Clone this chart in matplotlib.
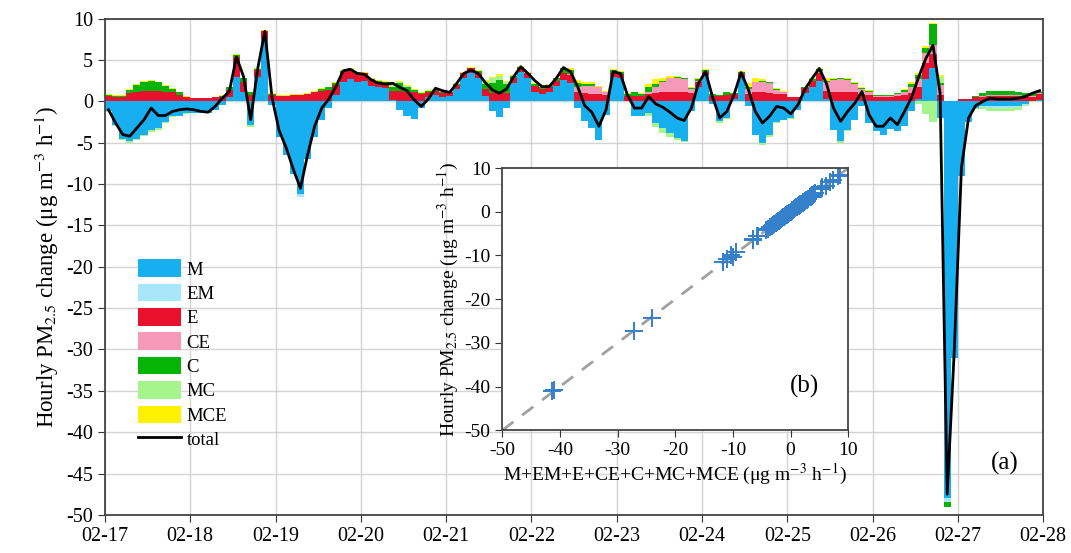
import numpy as np
import matplotlib
matplotlib.use('Agg')
import matplotlib.pyplot as plt
from matplotlib.patches import Patch
from matplotlib.lines import Line2D

plt.rcParams['font.family'] = ['Liberation Serif', 'DejaVu Serif']
plt.rcParams['mathtext.fontset'] = 'stix'
plt.rcParams['axes.unicode_minus'] = False

# 2-hourly values, one row per day (02-17 ... 02-27)
M = [-1.2, -2.8, -4.5, -4.8, -4.5, -4.0, -3.5, -3.2, -2.5, -1.8, -1.7, -1.4,
     -1.4, -1.4, -1.4, -1.0, -0.4, 0.5, 3.0, 1.2, -2.8, 3.0, 7.6, -0.4,
     -4.3, -6.5, -8.8, -11.2, -7.0, -4.3, -2.3, -0.8, 0.8, 2.4, 2.7, 2.3,
     2.5, 1.9, 1.8, 1.6, 0.2, -1.0, -1.8, -2.1, -0.8, 0.6, 0.8, 0.6,
     0.7, 1.5, 2.9, 3.4, 2.8, 0.7, -1.2, -1.9, -0.8, 2.2, 3.6, 2.8,
     1.2, 0.9, 1.1, 1.9, 2.6, 2.2, -0.8, -2.4, -3.2, -4.6, -1.6, 3.0,
     2.8, 0.0, -1.8, -1.7, -1.4, -2.6, -3.2, -3.8, -4.4, -4.8, -1.2, 1.8,
     3.2, -0.3, -2.4, -2.0, 0.3, 3.0, -0.5, -4.0, -5.0, -4.0, -2.5, -2.2,
     -2.0, -1.0, 1.0, 1.7, 2.5, 0.3, -3.4, -4.8, -3.5, -2.2, -0.6, -2.6,
     -3.6, -4.0, -3.3, -3.6, -3.0, -1.2, 0.3, 2.7, 4.0, -2.0, -48.0, -31.0,
     -9.0, -2.5, -0.8, -0.6, -0.6, -0.6, -0.6, -0.6, -0.5, -0.3, 0.0, 0.2]
EM = [0] * 12 + [0] * 12 + \
     [0, 0, 0, -0.3, 0, 0, 0, 0, 0, 0, 0, 0] + [0] * 72 + \
     [0, 0, 0, 0, 0, 0, 0, 0, 0, 0, -0.5, 0] + \
     [0, 0, 0, -0.1, -0.2, -0.2, -0.2, -0.2, -0.2, -0.1, 0, 0]
E = [0.7, 0.6, 0.6, 1.0, 1.2, 1.3, 1.3, 1.3, 1.2, 1.1, 0.8, 0.5,
     0.4, 0.4, 0.4, 0.5, 0.6, 0.9, 2.4, 1.2, 0.8, 0.8, 0.9, 0.8,
     0.7, 0.7, 0.8, 0.8, 0.9, 1.1, 1.3, 1.4, 1.2, 1.2, 1.1, 1.0,
     0.9, 0.7, 0.5, 0.6, 1.1, 1.3, 1.2, 1.1, 0.9, 0.6, 0.5, 0.4,
     0.4, 0.5, 0.5, 0.6, 0.6, 0.8, 1.0, 1.1, 1.0, 0.6, 0.5, 0.6,
     0.7, 0.6, 0.6, 0.6, 0.9, 1.0, 1.2, 1.0, 0.9, 0.9, 0.8, 0.5,
     0.5, 0.7, 0.7, 0.7, 0.9, 1.0, 1.1, 1.1, 1.1, 1.1, 1.0, 0.6,
     0.4, 0.7, 0.7, 0.8, 0.6, 0.4, 0.9, 1.1, 1.1, 1.0, 0.9, 0.9,
     0.5, 0.5, 0.6, 0.8, 1.0, 1.0, 1.1, 1.1, 1.1, 1.1, 0.9, 0.8,
     0.6, 0.6, 0.6, 0.7, 0.8, 1.0, 1.4, 2.0, 1.8, 0.8, 0.0, 0.0,
     0.3, 0.3, 0.5, 0.6, 0.7, 0.7, 0.7, 0.7, 0.7, 0.6, 0.6, 0.7]
CE = [0] * 60 + \
     [0, 0, 0, 0, 0, 0.1, 0.6, 0.9, 1.0, 0.8, 0.3, 0,
      0, 0, 0, 0, 0.3, 0.8, 1.3, 1.7, 1.8, 1.6, 0.5, 0.1,
      0, 0, 0, 0, 0, 0, 0.6, 1.2, 1.3, 1.2, 0.5, 0.2,
      0, 0, 0, 0, 0.2, 1.0, 1.5, 1.6, 1.5, 1.0, 0.6, 0.4,
      0.1, 0.1, 0.1, 0.2, 0.4, 0.8, 1.0, 1.2, 1.0, 1.2, 0, 0,
      0, 0, 0.1, 0.1, 0.1, 0.1, 0.1, 0.1, 0.1, 0.1, 0.1, 0.1]
C = [0.1, 0.1, 0.1, 0.4, 0.8, 1.1, 1.2, 1.0, 0.7, 0.4, 0.3, 0.1,
     0.0, 0.0, 0.0, 0.0, 0.1, 0.3, 0.2, 0.4, 0.3, 0.1, 0.0, 0.1,
     0.0, 0.0, 0.0, 0.0, 0.0, 0.1, 0.2, 0.3, 0.2, 0.1, 0.1, 0.1,
     0.1, 0.1, 0.2, 0.2, 0.5, 0.9, 0.6, 0.3, 0.1, 0.1, 0.1, 0.1,
     0.1, 0.1, 0.1, 0.1, 0.3, 0.6, 1.2, 1.5, 1.1, 0.3, 0.1, 0.1,
     0.2, 0.2, 0.3, 0.3, 0.5, 0.5, 0.4, 0.2, 0.2, 0.1, 0.1, 0.3,
     0.3, 0.2, 0.4, 0.2, 0.5, 0.3, 0.1, 0.1, 0.1, 0.1, 0.1, 0.2,
     0.2, 0.2, 0.1, 0.3, 0.1, 0.2, 0.3, 0.1, 0.1, 0.1, 0.1, 0.1,
     0.1, 0.1, 0.1, 0.2, 0.2, 0.2, 0.1, 0.1, 0.1, 0.1, 0.1, 0.1,
     0.1, 0.1, 0.1, 0.1, 0.2, 0.3, 0.5, 0.6, 2.6, 0.2, -0.6, 0.0,
     0.0, 0.0, 0.1, 0.3, 0.5, 0.5, 0.5, 0.5, 0.4, 0.3, 0.3, 0.2]
MC = [-0.1, -0.15, -0.2, -0.2, -0.2, -0.2, -0.2, -0.2, -0.1, -0.1, -0.1, -0.1,
      0, 0, 0, 0, 0, 0, 0, 0, -0.3, 0, 0, 0,
      0, 0, 0, -0.1, 0, 0, 0, 0, 0, 0, 0, 0,
      0, 0, 0, 0, 0.2, 0.2, 0.1, 0, 0, 0, 0, 0,
      0, 0, 0, 0, 0, 0.3, 0.6, 0.5, 0.3, 0, 0, 0,
      0, 0, 0, 0, 0, 0, 0, 0, 0, -0.1, 0, 0,
      0, 0, 0, -0.1, -0.3, -0.5, -0.6, -0.5, -0.3, -0.1, 0, 0,
      0, 0, -0.2, -0.1, 0, 0, 0, 0, -0.3, -0.3, -0.1, -0.1,
      -0.1, 0, 0, 0, 0, 0, -0.1, -0.2, -0.1, 0, 0, 0,
      0, 0, 0, 0, 0, 0, -0.3, -1.5, -2.5, 0.8, 0, 0,
      0, 0, -0.1, -0.2, -0.3, -0.3, -0.3, -0.3, -0.3, -0.2, -0.1, 0]
MCE = [0.05, 0.05, 0.05, 0.1, 0.1, 0.1, 0.1, 0.1, 0.1, 0.1, 0.1, 0.05,
       0.05, 0.05, 0.05, 0.05, 0.1, 0.1, 0.1, 0.1, 0, 0.1, 0.1, 0.1,
       0.1, 0.1, 0.1, 0.1, 0.1, 0.1, 0.1, 0.1, 0.1, 0.1, 0.1, 0.1,
       0.1, 0.1, 0.1, 0.1, 0.1, 0.1, 0.1, 0.1, 0.1, 0.1, 0.1, 0.1,
       0.1, 0.1, 0.1, 0.1, 0.1, 0.2, 0.2, 0.2, 0.1, 0.1, 0.1, 0.1,
       0.1, 0.1, 0.1, 0.1, 0.1, 0.3, 0.4, 0.3, 0.2, 0.1, 0.1, 0.1,
       0.1, 0.1, 0.1, 0.1, 0.4, 0.6, 0.3, 0.2, 0.1, 0.1, 0.1, 0.1,
       0.1, 0.0, 0.0, 0.0, 0.0, 0.1, 0.4, 0.5, 0.2, 0.1, 0.1, 0.1,
       0.0, 0.0, 0.0, 0.1, 0.1, 0.3, 0.2, 0.1, 0.1, 0.1, 0.1, 0.1,
       0.0, 0.0, 0.0, 0.0, 0.1, 0.2, 0.2, 0.2, 0.1, 0.2, 0.0, 0.0,
       0, 0, 0, 0, 0, 0, 0, 0, 0, 0, 0, 0]
total = [-1.0, -2.6, -4.0, -4.2, -3.2, -2.2, -0.8, -1.7, -1.7, -1.2, -1.0, -0.9,
         -1.0, -1.2, -1.3, -0.6, 0.4, 1.2, 5.4, 3.0, -2.2, 4.0, 8.5, 0.5,
         -3.5, -5.6, -8.2, -10.5, -6.5, -3.0, -0.8, 0.3, 1.8, 3.7, 3.9, 3.4,
         3.3, 2.6, 2.2, 2.1, 2.2, 1.7, 1.3, 0.2, -0.6, 0.3, 1.6, 1.3,
         1.1, 2.2, 3.4, 3.8, 3.4, 2.3, 1.4, 1.0, 1.5, 3.0, 4.2, 3.4,
         2.5, 1.8, 1.8, 2.8, 4.1, 3.6, 1.8, -0.5, -1.3, -3.0, -1.0, 3.6,
         3.4, 0.8, -0.8, -0.8, 0.6, -0.3, -0.7, -1.3, -2.0, -2.3, -0.8, 2.2,
         3.6, 0.5, -2.0, -1.2, 0.8, 3.5, 1.5, -1.2, -2.6, -1.8, -0.6, -0.8,
         -1.5, -0.4, 1.5, 2.8, 4.0, 2.2, -0.8, -2.4, -1.2, -0.2, 1.2, -1.6,
         -3.0, -3.0, -2.0, -2.8, -1.2, 0.5, 3.0, 5.2, 6.8, 1.0, -47.5, -30.0,
         -8.0, -2.0, -0.5, 0.0, 0.4, 0.3, 0.3, 0.3, 0.4, 0.6, 1.0, 1.3]

day_labels = ['02-17', '02-18', '02-19', '02-20', '02-21', '02-22',
              '02-23', '02-24', '02-25', '02-26', '02-27', '02-28']

names = ['M', 'EM', 'E', 'CE', 'C', 'MC', 'MCE']
series = [M, EM, E, CE, C, MC, MCE]
colors = ['#17AFEF', '#A8E6FA', '#E8112D', '#F799B8', '#06B406', '#A6F58C', '#FFF200']

# extra points visible in the inset (sum of terms, hourly change)
inset_sum = [-41.3, -41.0, -27.1, -24.0, -11.8, -11.0, -10.4, -10.0, -9.4, -6.5, -5.8, 5.4, 6.2, 7.4, 8.3]
inset_obs = [-41.1, -40.8, -27.3, -24.2, -11.6, -10.8, -10.0, -10.3, -9.2, -6.3, -5.6, 5.6, 6.0, 7.2, 8.2]

step = 2 / 24
n = len(total)
x = np.arange(n) * step

fig = plt.figure(figsize=(10.71, 5.53), dpi=100)
ax = fig.add_axes([0.098, 0.069, 0.876, 0.897])

pos_base = np.zeros(n)
neg_base = np.zeros(n)
for name, vals, col in zip(names, series, colors):
    v = np.array(vals, dtype=float)
    p = np.where(v > 0, v, 0)
    q = np.where(v < 0, v, 0)
    ax.bar(x, p, bottom=pos_base, width=step, align='edge', color=col, linewidth=0, zorder=2)
    ax.bar(x, q, bottom=neg_base, width=step, align='edge', color=col, linewidth=0, zorder=2)
    pos_base += p
    neg_base += q

ax.plot(x + step / 2, total, color='black', lw=2, zorder=3)

ax.set_xlim(0, 11)
ax.set_ylim(-50, 10)
ax.set_xticks(range(12))
ax.set_xticklabels(day_labels)
ax.set_yticks(range(-50, 11, 5))
ax.grid(True, color='#D4D4D4', lw=1)
ax.set_axisbelow(True)
ax.tick_params(direction='out', length=5, labelsize=14.5, color='#333333')
for s in ax.spines.values():
    s.set_color('#444444')
    s.set_linewidth(1.3)
ax.set_ylabel('Hourly PM$_{2.5}$ change (μg m$^{-3}$ h$^{-1}$)', fontsize=16.5, labelpad=4)
ax.text(10.55, -43.8, '(a)', fontsize=18, ha='center', va='center')

handles = [Patch(facecolor=c, edgecolor='none') for c in colors]
handles.append(Line2D([0], [0], color='black', lw=2))
ax.legend(handles, names + ['total'], loc='upper left', bbox_to_anchor=(0.027, 0.53),
          frameon=False, fontsize=13.5, handlelength=2.3, handleheight=1.05,
          labelspacing=0.28, handletextpad=0.3, borderaxespad=0)

# inset (b)
ax2 = fig.add_axes([0.469, 0.222, 0.323, 0.474])
ax2.plot([-50, 10], [-50, 10], color='#A0A0A0', lw=2, ls=(0, (5, 4)), zorder=1)
band = [t for t in total if -8 < t < 9]
ax2.plot(band, band, ls='none', marker='+', ms=13, mew=1.4, color='#3580CB', zorder=2)
ax2.plot(inset_sum, inset_obs, ls='none', marker='+', ms=13, mew=1.4, color='#3580CB', zorder=2)
ax2.set_xlim(-50, 10)
ax2.set_ylim(-50, 10)
ax2.set_xticks(range(-50, 11, 10))
ax2.set_yticks(range(-50, 11, 10))
ax2.tick_params(direction='out', length=5, labelsize=14, color='#333333')
for s in ax2.spines.values():
    s.set_color('#444444')
    s.set_linewidth(1.3)
ax2.set_xlabel('M+EM+E+CE+C+MC+MCE (μg m$^{-3}$ h$^{-1}$)', fontsize=14, labelpad=2)
ax2.set_ylabel('Hourly PM$_{2.5}$ change (μg m$^{-3}$ h$^{-1}$)', fontsize=14, labelpad=2)
ax2.text(2.5, -40, '(b)', fontsize=18, ha='center', va='center')

fig.savefig('out.png', dpi=100)
